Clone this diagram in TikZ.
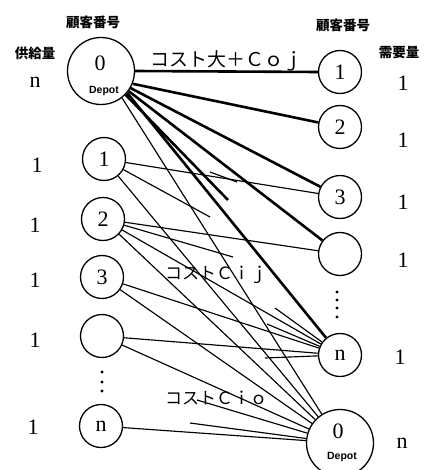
\documentclass[tikz,border=0pt]{standalone}
\usepackage{fontspec}
\setmainfont{Liberation Serif}
\newfontfamily\cjk{Noto Sans CJK JP}
\newfontfamily\sansb{Liberation Sans}
\begin{document}
\begin{tikzpicture}[x=1pt,y=-1pt,
  cust/.style={circle, draw, line width=1.3pt, minimum size=43pt, inner sep=0pt, font=\fontsize{22}{22}\selectfont},
  depot/.style={circle, draw, line width=1.3pt, minimum size=67pt, inner sep=0pt},
  thickedge/.style={line width=2.6pt},
  thinedge/.style={line width=1.15pt},
  num/.style={inner sep=0pt, font=\fontsize{22}{22}\selectfont},
  deplbl/.style={inner sep=0pt, font=\sansb\bfseries\fontsize{10.5}{10.5}\selectfont},
  head/.style={inner sep=0pt, font=\cjk\bfseries\fontsize{13.5}{13.5}\selectfont},
  cost/.style={inner sep=0pt, anchor=west, font=\cjk\fontsize{17}{17}\selectfont},
  dot/.style={circle, fill, inner sep=0pt, minimum size=3.2pt}
]
\clip (0,0) rectangle (426,470);
\fill[white] (0,0) rectangle (426,470);

% headings
\node[head] (hL) at (93,22) {顧客番号};
\node[head] (hR) at (343,25) {顧客番号};
\node[head] (sup) at (35,53) {供給量};
\node[head] (dem) at (399,53) {需要量};

% depots
\node[depot] (D0) at (101,71) {};
\node[num] (D0n) at (100,63) {0};
\node[deplbl] (D0t) at (104,91) {Depot};
\node[depot] (DR) at (340,443) {};
\node[num] (DRn) at (338,431) {0};
\node[deplbl] (DRt) at (342,457) {Depot};

% left customers
\node[cust] (L1) at (104,159) {1};
\node[cust] (L2) at (103,219) {2};
\node[cust] (L3) at (102,277) {3};
\node[cust] (L4) at (102,336) {};
\node[cust] (Ln) at (101,426) {n};
% right customers
\node[cust] (R1) at (340,72) {1};
\node[cust] (R2) at (340,127) {2};
\node[cust] (R3) at (340,197) {3};
\node[cust] (R4) at (340,254) {};
\node[cust] (Rn) at (340,355) {n};

% dots
\node[dot] (ld1) at (102,372) {};
\node[dot] (ld2) at (102,382) {};
\node[dot] (ld3) at (102,391) {};
\node[dot] (rd1) at (337,292) {};
\node[dot] (rd2) at (337,300) {};
\node[dot] (rd3) at (337,308) {};
\node[dot] (rd4) at (337,317) {};

% supply / demand values
\node[num] (s0) at (35,82) {n};
\node[num] (s1) at (37,165) {1};
\node[num] (s2) at (35,225) {1};
\node[num] (s3) at (35,280) {1};
\node[num] (s4) at (35,340) {1};
\node[num] (s5) at (33,427) {1};
\node[num] (d1) at (403,83) {1};
\node[num] (d2) at (403,140) {1};
\node[num] (d3) at (403,202) {1};
\node[num] (d4) at (403,260) {1};
\node[num] (d5) at (400,357) {1};
\node[num] (d0) at (402,443) {n};

% thick edges from depot
\draw[thickedge] (D0.east) -- (R1.west);
\draw[thickedge] (D0.-22) -- (R2);
\draw[thickedge] (D0.-30) -- (R3);
\draw[thickedge] (D0.-36) -- (R4);
\draw[thickedge] (D0.-40) -- (Rn);
\coordinate (f1) at (228,200);
\draw[thickedge] (D0.-44) -- (f1);
\draw[thinedge] (D0.-52) -- (DR);

% thin edges
\draw[thinedge] (L1) -- (R3);
\draw[thinedge] (L1) -- (DR);
\draw[thinedge] (L2) -- (R4);
\draw[thinedge] (L2) -- (Rn);
\draw[thinedge] (L2) -- (DR);
\draw[thinedge] (L3) -- (Rn);
\draw[thinedge] (L3) -- (DR);
\draw[thinedge] (L4) -- (Rn);
\draw[thinedge] (L4) -- (DR);
\draw[thinedge] (Ln) -- (DR);

% truncated fragments
\coordinate (c1) at (210,217);
\coordinate (c2) at (233,257);
\coordinate (c3) at (275,308);
\coordinate (c4) at (267,324);
\coordinate (c5) at (265,358);
\coordinate (c6) at (190,423);
\coordinate (c7) at (197,400);
\coordinate (c8) at (210,172);
\coordinate (c9) at (237,182);
\draw[thinedge] (L1) -- (c1);
\draw[thinedge] (L2) -- (c2);
\draw[thinedge] (c3) -- (Rn);
\draw[thinedge] (c4) -- (Rn);
\draw[thinedge] (c5) -- (Rn);
\draw[thinedge] (c6) -- (DR);
\draw[thinedge] (c7) -- (DR);
\draw[thinedge] (c8) -- (c9);

% cost labels
\node[cost, font=\cjk\fontsize{19}{19}\selectfont] (k0) at (150,61) {コスト大＋Ｃｏｊ};
\node[cost] (k1) at (165,275) {コストＣｉｊ};
\node[cost] (k2) at (165,398) {コストＣｉｏ};
\end{tikzpicture}
\end{document}
